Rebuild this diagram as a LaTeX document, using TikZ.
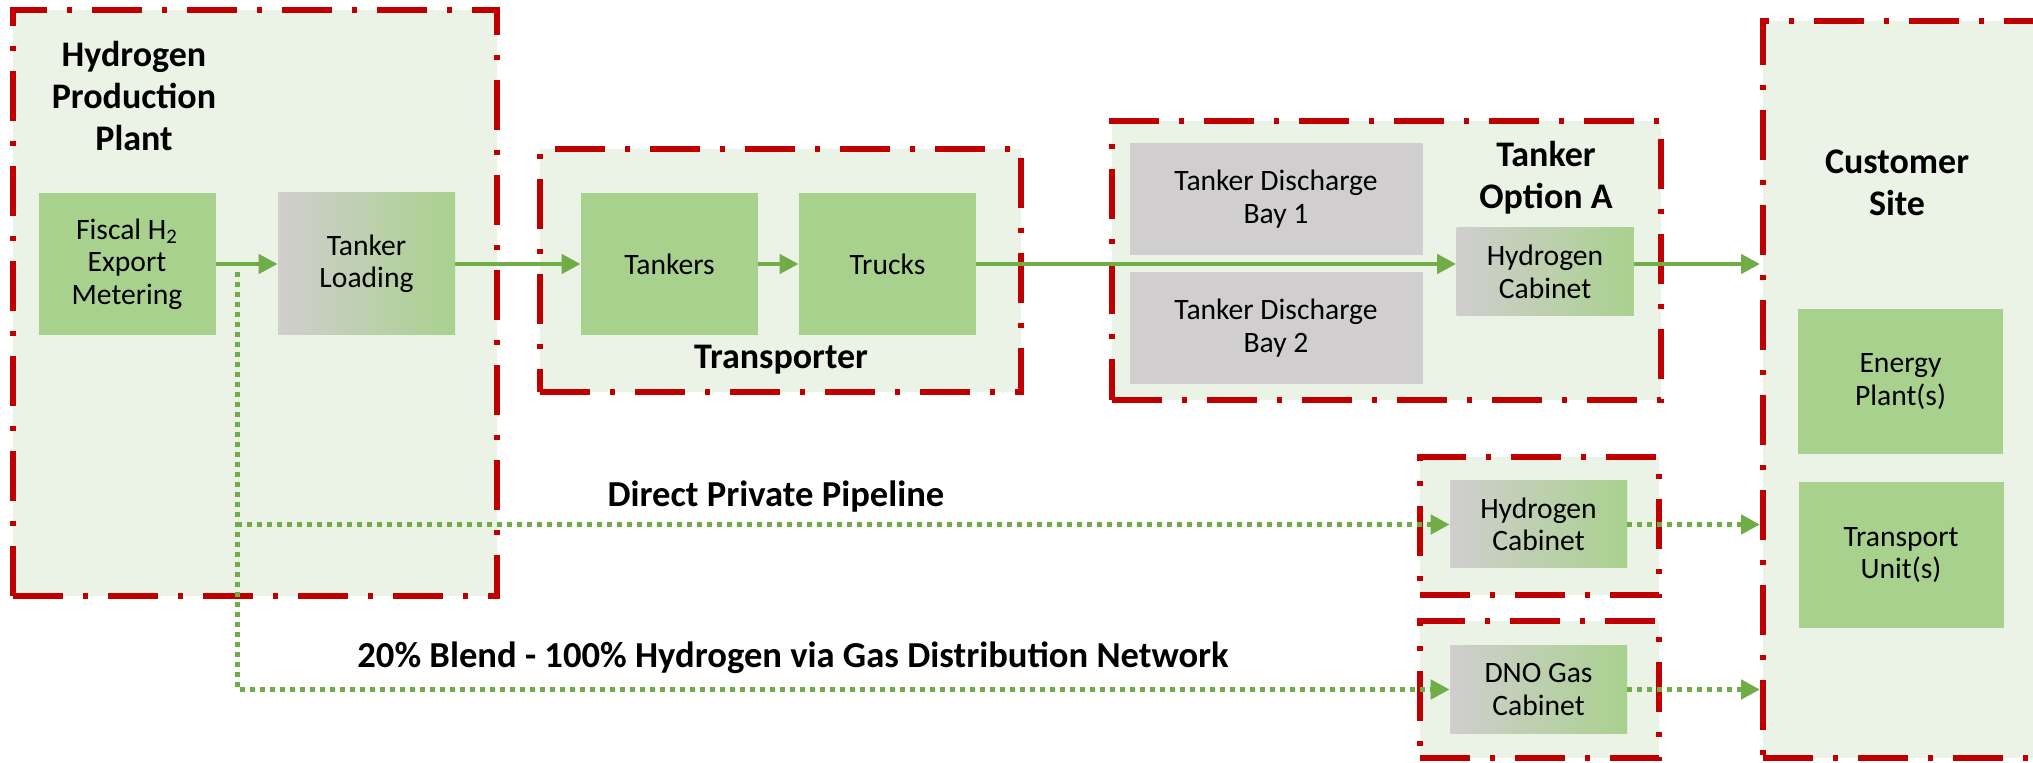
\documentclass[tikz,border=0pt]{standalone}
\usepackage{fontspec}
\setmainfont{Carlito}
\usepackage{tikz}
\usetikzlibrary{arrows.meta, fit}

\definecolor{framered}{HTML}{C00000}
\definecolor{framefill}{HTML}{EBF3E6}
\definecolor{unitgreen}{HTML}{A9D18E}
\definecolor{unitgrey}{HTML}{D0CECE}
\definecolor{flowgreen}{HTML}{70AD47}

\begin{document}
\begin{tikzpicture}[x=0.5pt, y=-0.5pt,
  siteframe/.style={rectangle, draw=framered, fill=framefill, line width=3pt, dash pattern=on 25pt off 10pt on 2.5pt off 10pt, inner sep=0pt},
  areatitle/.style={align=center, font=\fontsize{18}{21}\selectfont\bfseries},
  unitbox/.style={rectangle, fill=unitgreen, align=center, inner sep=0pt, minimum width=88.5pt, minimum height=71pt, font=\fontsize{14.8}{16.2}\selectfont},
  baybox/.style={unitbox, fill=unitgrey, minimum width=146.5pt, minimum height=56pt},
  cabinet/.style={unitbox, left color=unitgrey, right color=unitgreen},
  smallcab/.style={cabinet, minimum height=43.5pt},
  routelabel/.style={font=\fontsize{18.3}{21}\selectfont\bfseries},
  flow/.style={-{Triangle[length=9.5pt, width=9.5pt]}, color=flowgreen, line width=2.2pt},
  pipeline/.style={flow, line width=2.5pt, dash pattern=on 2.5pt off 2.5pt}
]
\useasboundingbox (0,0) rectangle (2033,763);
\clip (0,0) rectangle (2033,763);

% Frames
\node[siteframe, fit={(13,10) (497,596)}] (plant) {};
\node[siteframe, fit={(540,149) (1021,392)}] (transporter) {};
\node[siteframe, fit={(1112,121) (1661,400)}] (optiona) {};
\node[siteframe, fit={(1420,457) (1659,595)}] (pipebox) {};
\node[siteframe, fit={(1420,621) (1659,758)}] (dnobox) {};
\node[siteframe, fit={(1763,21) (2110,758)}] (site) {};

% Titles
\node[areatitle] (plantname) at (134,96) {Hydrogen\\Production\\Plant};
\node[areatitle] (transname) at (781,360) {Transporter};
\node[areatitle] (optionname) at (1546,178) {Tanker\\Option A};
\node[areatitle] (sitename) at (1897,183) {Customer\\Site};

% Units
\node[unitbox] (metering) at (127,264) {Fiscal H\textsubscript{2}\\Export\\Metering};
\node[cabinet] (loading) at (366.5,264) {Tanker\\Loading};
\node[unitbox] (tankers) at (669.5,264) {Tankers};
\node[unitbox] (trucks) at (887.5,264) {Trucks};
\node[baybox] (bay1) at (1276,199) {Tanker Discharge\\Bay 1};
\node[baybox] (bay2) at (1276,328) {Tanker Discharge\\Bay 2};
\node[cabinet, minimum height=44pt] (cabineta) at (1545,272) {Hydrogen\\Cabinet};
\node[smallcab] (cabinetb) at (1538.5,524.5) {Hydrogen\\Cabinet};
\node[smallcab] (dnocab) at (1538.5,689.5) {DNO Gas\\Cabinet};
\node[unitbox, minimum width=102.5pt, minimum height=72.5pt] (energy) at (1900.5,381.5) {Energy\\Plant(s)};
\node[unitbox, minimum width=102.5pt, minimum height=73pt] (transport) at (1901,555) {Transport\\Unit(s)};

% Route labels
\node[routelabel] (pipename) at (776,497) {Direct Private Pipeline};
\node[routelabel] (blendname) at (793,658) {20\% Blend - 100\% Hydrogen via Gas Distribution Network};

% Tanker route
\draw[flow] (metering.east) -- (loading.west);
\draw[flow] (loading.east) -- (tankers.west);
\draw[flow] (tankers.east) -- (trucks.west);
\draw[flow] (trucks.east) -- (trucks.east -| cabineta.west);
\draw[flow] (cabineta.east |- trucks.east) -- (site.west |- trucks.east);

% Pipeline routes
\coordinate (branch) at (237,272);
\draw[pipeline] (branch) |- (dnocab.west);
\draw[pipeline] (branch |- cabinetb.west) -- (cabinetb.west);
\draw[pipeline] (cabinetb.east) -- (cabinetb.east -| site.west);
\draw[pipeline] (dnocab.east) -- (dnocab.east -| site.west);

\end{tikzpicture}
\end{document}
